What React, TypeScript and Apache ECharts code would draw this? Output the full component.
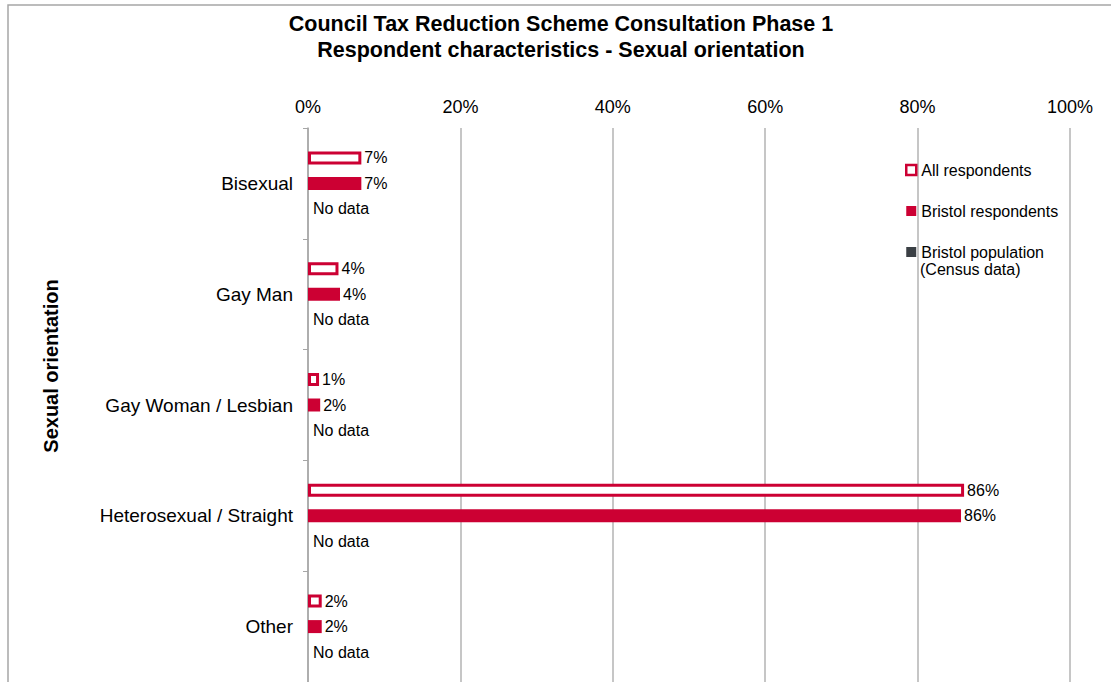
import React, { useEffect, useRef } from "react";
import * as echarts from "echarts";

const categories = ["Bisexual", "Gay Man", "Gay Woman / Lesbian", "Heterosexual / Straight", "Other"];
const allRespondents = [7.0, 4.0, 1.45, 86.1, 1.8];
const bristolRespondents = [7.0, 4.2, 1.6, 85.7, 1.8];
const bristolPopulation = [0, 0, 0, 0, 0];
const xTicks = [0, 20, 40, 60, 80, 100];

const RED = "#CC0033";
const FONT = "'Liberation Sans', Arial, sans-serif";

export default function App() {
  const ref = useRef<HTMLDivElement>(null);
  useEffect(() => {
    if (!ref.current) return;
    const chart = echarts.init(ref.current, undefined, { renderer: "svg" });
    const barLabel = {
      show: true,
      position: "right",
      distance: 3,
      formatter: (p: any) => Math.round(p.value) + "%",
      fontFamily: FONT,
      fontSize: 16,
      color: "#000",
    };
    chart.setOption({
      animation: false,
      backgroundColor: "#fff",
      textStyle: { fontFamily: FONT },
      title: {
        text: "Council Tax Reduction Scheme Consultation Phase 1\nRespondent characteristics - Sexual orientation",
        left: 561,
        top: 11,
        padding: 0,
        textAlign: "center",
        textStyle: { fontFamily: FONT, fontSize: 21.5, fontWeight: "bold", color: "#000", lineHeight: 26 },
      },
      legend: {
        orient: "vertical",
        left: 900,
        top: 156,
        itemWidth: 10,
        itemHeight: 10,
        itemGap: 23,
        textStyle: { fontFamily: FONT, fontSize: 16, color: "#000", lineHeight: 18 },
        data: [
          { name: "All respondents", icon: "rect", itemStyle: { color: "#fff", borderColor: RED, borderWidth: 2.5 } },
          { name: "Bristol respondents", icon: "rect", itemStyle: { color: RED } },
          { name: "Bristol population", icon: "rect", itemStyle: { color: "#3a3f44" } },
        ],
      },
      graphic: [
        {
          type: "rect",
          shape: { x: 8, y: 5, width: 1300, height: 900 },
          style: { fill: "none", stroke: "#a6a6a6", lineWidth: 1.5 },
          silent: true,
        },
        {
          type: "text",
          x: 920,
          y: 261,
          style: { text: "(Census data)", fontFamily: FONT, fontSize: 16, fill: "#000", verticalAlign: "top" },
        },
        {
          type: "text",
          x: 51,
          y: 366,
          rotation: Math.PI / 2,
          style: {
            text: "Sexual orientation",
            fontFamily: FONT,
            fontSize: 20,
            fontWeight: "bold",
            fill: "#000",
            align: "center",
            verticalAlign: "middle",
          },
        },
      ],
      grid: { left: 308, right: 41, top: 128, height: 555 },
      xAxis: {
        type: "value",
        position: "top",
        min: xTicks[0],
        max: xTicks[xTicks.length - 1],
        interval: 20,
        axisLine: { show: false },
        axisTick: { show: false },
        axisLabel: { formatter: "{value}%", fontFamily: FONT, fontSize: 18, color: "#000", margin: 12 },
        splitLine: { show: true, lineStyle: { color: "#b3b3b3", width: 1.5 } },
      },
      yAxis: {
        type: "category",
        inverse: true,
        data: categories,
        axisLine: { show: true, lineStyle: { color: "#a6a6a6", width: 1.5 } },
        axisTick: { show: true, length: 5, lineStyle: { color: "#a6a6a6" } },
        axisLabel: { fontFamily: FONT, fontSize: 19, color: "#000", margin: 15 },
      },
      series: [
        {
          name: "All respondents",
          type: "bar",
          data: allRespondents,
          barWidth: 13,
          barGap: "96%",
          itemStyle: { color: "#fff", borderColor: RED, borderWidth: 3 },
          label: barLabel,
        },
        {
          name: "Bristol respondents",
          type: "bar",
          data: bristolRespondents,
          barWidth: 13,
          barGap: "96%",
          itemStyle: { color: RED },
          label: barLabel,
        },
        {
          name: "Bristol population",
          type: "bar",
          data: bristolPopulation,
          barWidth: 13,
          barGap: "96%",
          itemStyle: { color: "#3a3f44" },
          label: { ...barLabel, distance: 5, formatter: "No data" },
        },
      ],
    });
    return () => chart.dispose();
  }, []);
  return (
    <div
      ref={ref}
      style={{ position: "fixed", left: 0, top: 0, width: 1111, height: 682 }}
    />
  );
}
